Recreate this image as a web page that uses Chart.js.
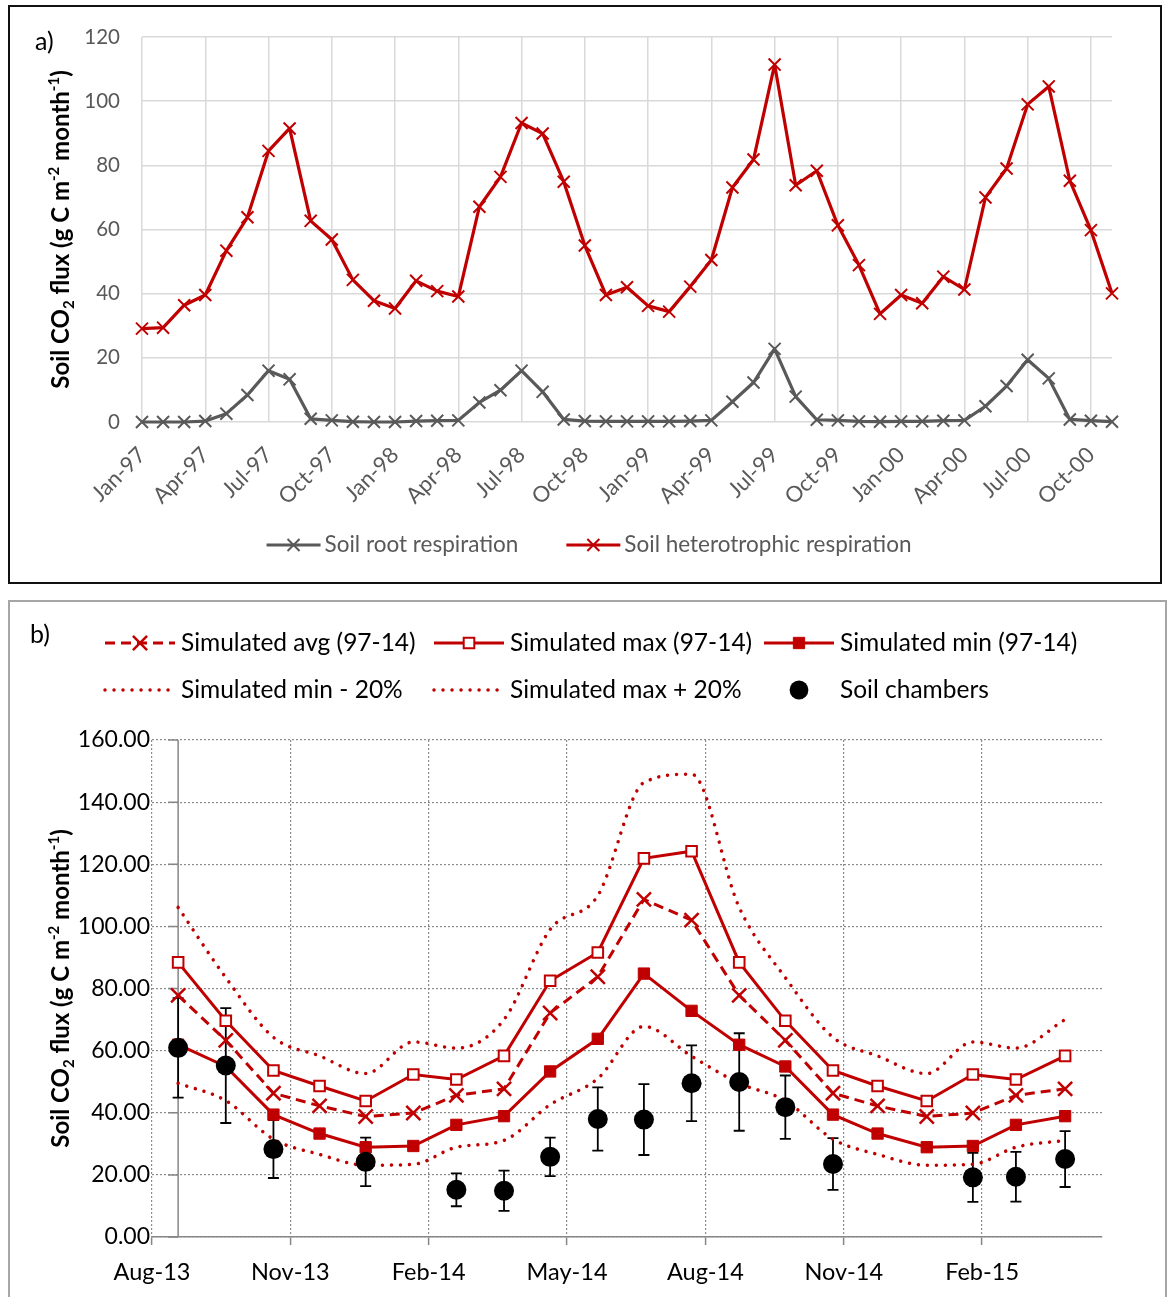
<!DOCTYPE html>
<html>
<head>
<meta charset="utf-8">
<script src="https://cdn.jsdelivr.net/npm/chart.js@4.4.0/dist/chart.umd.min.js"></script>
<style>
  html, body { margin: 0; padding: 0; background: #fff; }
  body { width: 1168px; height: 1297px; position: relative; overflow: hidden; font-family: Lato, sans-serif; }
  .frame { position: absolute; box-sizing: border-box; }
  #frameA { left: 8px; top: 5px; width: 1154px; height: 579px; border: 2px solid #111; }
  #frameB { left: 8px; top: 600px; width: 1159px; height: 720px; border: 2px solid #a6a6a6; }
  canvas { position: absolute; left: 0; }
  #chartA { top: 0; }
  #chartB { top: 600px; }
  .tag { position: absolute; font-size: 25px; line-height: 25px; color: #000; }
</style>
</head>
<body>
<div class="frame" id="frameA"></div>
<div class="frame" id="frameB"></div>
<canvas id="chartA" width="1168" height="592"></canvas>
<canvas id="chartB" width="1168" height="697"></canvas>
<div class="tag" style="left:35px; top:28px;">a)</div>
<div class="tag" style="left:30px; top:621px;">b)</div>

<script>
const RED = '#C00000';
const GREY = '#595959';

// ---- panel a : monthly soil respiration 1997-2000
const monthsA = [
  'Jan-97', 'Feb-97', 'Mar-97', 'Apr-97', 'May-97', 'Jun-97', 'Jul-97', 'Aug-97', 'Sep-97', 'Oct-97', 'Nov-97', 'Dec-97',
  'Jan-98', 'Feb-98', 'Mar-98', 'Apr-98', 'May-98', 'Jun-98', 'Jul-98', 'Aug-98', 'Sep-98', 'Oct-98', 'Nov-98', 'Dec-98',
  'Jan-99', 'Feb-99', 'Mar-99', 'Apr-99', 'May-99', 'Jun-99', 'Jul-99', 'Aug-99', 'Sep-99', 'Oct-99', 'Nov-99', 'Dec-99',
  'Jan-00', 'Feb-00', 'Mar-00', 'Apr-00', 'May-00', 'Jun-00', 'Jul-00', 'Aug-00', 'Sep-00', 'Oct-00', 'Nov-00'
];
const rootResp = [
  0, 0, 0, 0.3, 2.6, 8.4, 16.0, 13.3, 1.0, 0.5, 0.1, 0,
  0, 0.3, 0.4, 0.5, 6.1, 9.9, 16.0, 9.4, 0.8, 0.3, 0.2, 0.2,
  0.2, 0.2, 0.3, 0.5, 6.3, 12.3, 22.8, 7.9, 0.7, 0.5, 0.2, 0.1,
  0.2, 0.2, 0.4, 0.5, 4.9, 11.2, 19.4, 13.6, 0.8, 0.4, 0.1
];
const heteroResp = [
  29.1, 29.4, 36.4, 39.6, 53.4, 63.8, 84.5, 91.5, 62.7, 56.9, 44.3, 37.8,
  35.4, 44.0, 40.8, 39.1, 67.1, 76.4, 93.2, 89.9, 74.9, 55.0, 39.6, 42.0,
  36.2, 34.4, 42.2, 50.5, 73.1, 81.8, 111.4, 73.8, 78.3, 61.3, 48.9, 33.7,
  39.6, 37.0, 45.3, 41.3, 70.0, 79.0, 99.0, 104.6, 75.2, 59.8, 40.1
];

// ---- panel b : simulated vs chamber measurements 2013-2015
const sampleDates = [
  '2013-08-18', '2013-09-19', '2013-10-20', '2013-11-20', '2013-12-20', '2014-01-21', '2014-02-19',
  '2014-03-20', '2014-04-20', '2014-05-21', '2014-06-21', '2014-07-22', '2014-08-23', '2014-09-23',
  '2014-10-24', '2014-11-23', '2014-12-25', '2015-01-25', '2015-02-23', '2015-03-25'
];
const xStartB = '2013-08-01';
const xEndB = '2015-04-19';
const xTickLabelsB = ['Aug-13', 'Nov-13', 'Feb-14', 'May-14', 'Aug-14', 'Nov-14', 'Feb-15'];
const simAvg = [77.8, 63.3, 46.3, 42.2, 38.8, 39.9, 45.6, 47.7, 72.1, 83.8, 108.7, 102.0, 77.8, 63.3, 46.3, 42.2, 38.8, 39.9, 45.6, 47.7];
const simMax = [88.4, 69.6, 53.6, 48.6, 43.8, 52.3, 50.7, 58.3, 82.5, 91.6, 121.9, 124.2, 88.4, 69.6, 53.6, 48.6, 43.8, 52.3, 50.7, 58.3];
const simMin = [61.9, 54.9, 39.4, 33.3, 28.9, 29.3, 36.1, 38.9, 53.3, 63.8, 84.8, 72.8, 61.9, 54.9, 39.4, 33.3, 28.9, 29.3, 36.1, 38.9];
const minMinus20 = [49.5, 43.9, 31.5, 26.6, 23.1, 23.4, 28.9, 31.1, 42.6, 51.0, 67.8, 58.2, 49.5, 43.9, 31.5, 26.6, 23.1, 23.4, 28.9, 31.1];
const maxPlus20 = [106.1, 83.5, 64.3, 58.3, 52.6, 62.8, 60.8, 70.0, 99.0, 109.9, 146.3, 149.0, 106.1, 83.5, 64.3, 58.3, 52.6, 62.8, 60.8, 70.0];
const chambers = [60.9, 55.2, 28.3, null, 24.2, null, 15.2, 14.9, 25.8, 38.0, 37.8, 49.5, 49.9, 41.8, 23.5, null, null, 19.2, 19.4, 25.1];
const chamberSd = [16.0, 18.5, 9.3, null, 7.8, null, 5.3, 6.5, 6.2, 10.2, 11.4, 12.2, 15.7, 10.2, 8.3, null, null, 7.9, 8.0, 9.0];

const titleParts = [
  { t: 'Soil CO' }, { t: '2', k: 'sub' }, { t: ' flux (g C m' }, { t: '-2', k: 'sup' },
  { t: ' month' }, { t: '-1', k: 'sup' }, { t: ')' }
];

Chart.defaults.font.family = 'Lato, "Open Sans", sans-serif';

function monthPos(d) {
  const p = d.split('-').map(Number);
  const s = xStartB.split('-').map(Number);
  return (p[0] - s[0]) * 12 + (p[1] - s[1]) + (p[2] - 1) / 30;
}

function pts(arr) {
  return arr.map((v, i) => ({ x: monthPos(sampleDates[i]), y: v }));
}

// bold rotated axis title with sub/superscripts
function drawRich(ctx, parts, cx, y, size) {
  const fontOf = p => 'bold ' + (p.k ? Math.round(size * 0.62) : size) + 'px Lato';
  let total = 0;
  parts.forEach(p => { ctx.font = fontOf(p); total += ctx.measureText(p.t).width; });
  let x = cx - total / 2;
  ctx.textAlign = 'left';
  parts.forEach(p => {
    ctx.font = fontOf(p);
    const dy = p.k === 'sub' ? size * 0.22 : p.k === 'sup' ? -size * 0.4 : 0;
    ctx.fillText(p.t, x, y + dy);
    x += ctx.measureText(p.t).width;
  });
}

const yTitle = {
  id: 'yTitle',
  afterDraw(chart, args, opts) {
    const ctx = chart.ctx, a = chart.chartArea;
    ctx.save();
    ctx.translate(opts.x, (a.top + a.bottom) / 2);
    ctx.rotate(-Math.PI / 2);
    ctx.fillStyle = '#000';
    ctx.textBaseline = 'alphabetic';
    drawRich(ctx, titleParts, 0, 0, opts.size);
    ctx.restore();
  }
};

function drawMarker(ctx, ds, x, y) {
  const style = ds.pointStyle || 'circle';
  const r = ds.pointRadius;
  if (!r) return;
  ctx.save();
  ctx.setLineDash([]);
  ctx.lineWidth = ds.pointBorderWidth || 1;
  ctx.strokeStyle = ds.pointBorderColor || ds.borderColor;
  ctx.fillStyle = ds.pointBackgroundColor || ds.borderColor;
  ctx.beginPath();
  if (style === 'crossRot') {
    const d = r * Math.SQRT1_2;
    ctx.moveTo(x - d, y - d); ctx.lineTo(x + d, y + d);
    ctx.moveTo(x + d, y - d); ctx.lineTo(x - d, y + d);
    ctx.stroke();
  } else if (style === 'rect') {
    const s = r * Math.SQRT1_2;
    ctx.rect(x - s, y - s, 2 * s, 2 * s);
    ctx.fill(); ctx.stroke();
  } else {
    ctx.arc(x, y, r * 0.94, 0, Math.PI * 2);
    ctx.fill();
  }
  ctx.restore();
}

function drawSymbol(ctx, ds, x0, x1, y) {
  if (ds.showLine !== false) {
    ctx.save();
    ctx.strokeStyle = ds.borderColor;
    ctx.lineWidth = ds.borderWidth;
    ctx.lineCap = ds.borderCapStyle || 'butt';
    ctx.setLineDash(ds.borderDash || []);
    ctx.beginPath(); ctx.moveTo(x0, y); ctx.lineTo(x1, y); ctx.stroke();
    ctx.restore();
  }
  drawMarker(ctx, ds, (x0 + x1) / 2, y);
}

// centred single-row legend for panel a
const legendA = {
  id: 'legendA',
  afterDraw(chart, args, opts) {
    const ctx = chart.ctx;
    const sets = chart.data.datasets;
    ctx.save();
    ctx.font = opts.size + 'px Lato';
    ctx.textBaseline = 'middle';
    ctx.textAlign = 'left';
    const widths = sets.map(ds => opts.sym + opts.gap + ctx.measureText(ds.label).width);
    const total = widths.reduce((a, b) => a + b, 0) + opts.spacing * (sets.length - 1);
    let x = opts.cx - total / 2;
    sets.forEach((ds, i) => {
      drawSymbol(ctx, ds, x, x + opts.sym, opts.y);
      ctx.fillStyle = opts.color;
      ctx.fillText(ds.label, x + opts.sym + opts.gap, opts.y);
      x += widths[i] + opts.spacing;
    });
    ctx.restore();
  }
};

// three-column, two-row legend for panel b
const legendB = {
  id: 'legendB',
  afterDraw(chart, args, opts) {
    const ctx = chart.ctx;
    const sets = chart.data.datasets;
    ctx.save();
    ctx.font = opts.size + 'px Lato';
    ctx.textBaseline = 'middle';
    ctx.textAlign = 'left';
    opts.order.forEach((di, i) => {
      const ds = sets[di];
      const x = opts.cols[i % 3];
      const y = opts.rows[Math.floor(i / 3)];
      drawSymbol(ctx, ds, x, x + opts.sym, y);
      ctx.fillStyle = '#000';
      ctx.fillText(ds.label, x + opts.textOff, y);
    });
    ctx.restore();
  }
};

// error bars and the vertical axis line crossing at the first sample
const chamberExtras = {
  id: 'chamberExtras',
  beforeDatasetsDraw(chart) {
    const ctx = chart.ctx, xs = chart.scales.x, ys = chart.scales.y;
    ctx.save();
    const ax = xs.getPixelForValue(monthPos(sampleDates[0]));
    ctx.strokeStyle = '#868686';
    ctx.lineWidth = 1.5;
    ctx.beginPath();
    ctx.moveTo(ax, ys.getPixelForValue(ys.max));
    ctx.lineTo(ax, ys.getPixelForValue(ys.min));
    ys.ticks.forEach(t => {
      const py = ys.getPixelForValue(t.value);
      ctx.moveTo(ax - 10, py);
      ctx.lineTo(ax, py);
    });
    ctx.stroke();
    ctx.strokeStyle = '#000';
    ctx.lineWidth = 1.8;
    chambers.forEach((v, i) => {
      if (v === null) return;
      const px = xs.getPixelForValue(monthPos(sampleDates[i]));
      const top = ys.getPixelForValue(v + chamberSd[i]);
      const bot = ys.getPixelForValue(v - chamberSd[i]);
      ctx.beginPath();
      ctx.moveTo(px, top); ctx.lineTo(px, bot);
      ctx.moveTo(px - 5.5, top); ctx.lineTo(px + 5.5, top);
      ctx.moveTo(px - 5.5, bot); ctx.lineTo(px + 5.5, bot);
      ctx.stroke();
    });
    ctx.restore();
  }
};

new Chart(document.getElementById('chartA'), {
  type: 'line',
  data: {
    labels: monthsA,
    datasets: [
      {
        label: 'Soil root respiration', data: rootResp,
        borderColor: GREY, borderWidth: 3.2, borderJoinStyle: 'round',
        pointStyle: 'crossRot', pointRadius: 8.5, pointBorderWidth: 2, pointBorderColor: GREY,
        pointBackgroundColor: GREY, clip: false
      },
      {
        label: 'Soil heterotrophic respiration', data: heteroResp,
        borderColor: RED, borderWidth: 3.2, borderJoinStyle: 'round',
        pointStyle: 'crossRot', pointRadius: 8.5, pointBorderWidth: 2, pointBorderColor: RED,
        pointBackgroundColor: RED, clip: false
      }
    ]
  },
  options: {
    responsive: false,
    animation: false,
    layout: { padding: { top: 37, right: 56, bottom: 70, left: 0 } },
    scales: {
      x: {
        ticks: {
          autoSkip: false, minRotation: 45, maxRotation: 45, padding: 20,
          color: GREY, font: { size: 22 },
          callback: (v, i) => (i % 3 === 0 ? monthsA[i] : null)
        },
        grid: { drawTicks: false, lineWidth: 1.5, color: '#d9d9d9' },
        border: { display: false },
        afterFit: s => { s.height = 100; }
      },
      y: {
        min: 0, max: 120,
        ticks: { stepSize: 20, padding: 22, color: GREY, font: { size: 20.5 } },
        grid: { drawTicks: false, lineWidth: 1.5, color: '#d9d9d9' },
        border: { display: false },
        afterFit: s => { s.width = 142; }
      }
    },
    plugins: {
      legend: { display: false },
      tooltip: { enabled: false },
      yTitle: { x: 69, size: 24 },
      legendA: { cx: 589, y: 545, sym: 54, gap: 4, spacing: 48, size: 22.5, color: GREY }
    }
  },
  plugins: [yTitle, legendA]
});

new Chart(document.getElementById('chartB'), {
  type: 'line',
  data: {
    datasets: [
      {
        label: 'Soil chambers', data: pts(chambers), showLine: false,
        pointStyle: 'circle', pointRadius: 10, borderColor: '#000',
        pointBackgroundColor: '#000', pointBorderColor: '#000', pointBorderWidth: 0
      },
      {
        label: 'Simulated avg (97-14)', data: pts(simAvg),
        borderColor: RED, borderWidth: 3, borderDash: [10, 6],
        pointStyle: 'crossRot', pointRadius: 10, pointBorderWidth: 2.5,
        pointBorderColor: RED, pointBackgroundColor: RED
      },
      {
        label: 'Simulated max (97-14)', data: pts(simMax),
        borderColor: RED, borderWidth: 3,
        pointStyle: 'rect', pointRadius: 7.5, pointBorderWidth: 2,
        pointBorderColor: RED, pointBackgroundColor: '#fff'
      },
      {
        label: 'Simulated min (97-14)', data: pts(simMin),
        borderColor: RED, borderWidth: 3,
        pointStyle: 'rect', pointRadius: 8, pointBorderWidth: 1,
        pointBorderColor: RED, pointBackgroundColor: RED
      },
      {
        label: 'Simulated min - 20%', data: pts(minMinus20),
        borderColor: RED, borderWidth: 3.5, borderDash: [0.01, 9], borderCapStyle: 'round',
        pointRadius: 0, cubicInterpolationMode: 'monotone'
      },
      {
        label: 'Simulated max + 20%', data: pts(maxPlus20),
        borderColor: RED, borderWidth: 3.5, borderDash: [0.01, 9], borderCapStyle: 'round',
        pointRadius: 0, cubicInterpolationMode: 'monotone'
      }
    ]
  },
  options: {
    responsive: false,
    animation: false,
    layout: { padding: { top: 140, right: 66, bottom: 0, left: 0 } },
    scales: {
      x: {
        type: 'linear',
        min: monthPos(xStartB), max: monthPos(xEndB),
        ticks: {
          stepSize: 3, includeBounds: false, autoSkip: false, maxRotation: 0,
          padding: 13, color: '#000', font: { size: 23.5 },
          callback: v => xTickLabelsB[Math.round(v / 3)]
        },
        grid: {
          color: '#8c8c8c', lineWidth: 1.2, tickLength: 8,
          tickColor: '#868686', tickWidth: 1.5, tickBorderDash: []
        },
        border: { display: true, color: '#868686', width: 1.5, dash: [2, 2] },
        afterFit: s => { s.height = 60; }
      },
      y: {
        min: 0, max: 160,
        ticks: {
          stepSize: 20, padding: 2, color: '#000', font: { size: 23 },
          callback: v => v.toFixed(2)
        },
        grid: { color: '#8c8c8c', lineWidth: 1.2, drawTicks: false },
        border: { display: false, dash: [2, 2] },
        afterFit: s => { s.width = 152; }
      }
    },
    plugins: {
      legend: { display: false },
      tooltip: { enabled: false },
      yTitle: { x: 69, size: 24 },
      legendB: { order: [1, 2, 3, 4, 5, 0], cols: [105, 434, 764], rows: [43, 90], sym: 70, textOff: 76, size: 24.5 }
    }
  },
  plugins: [yTitle, legendB, chamberExtras]
});
</script>
</body>
</html>
